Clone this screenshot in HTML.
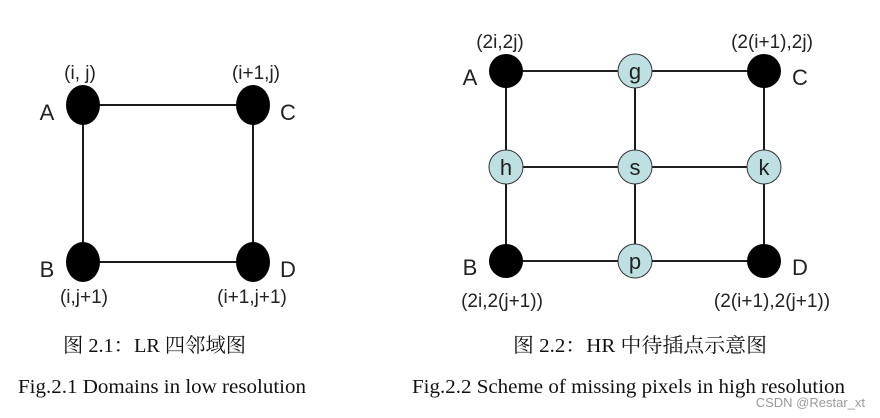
<!DOCTYPE html>
<html><head><meta charset="utf-8"><style>
html,body{margin:0;padding:0;background:#fff;}
body{width:880px;height:418px;overflow:hidden;position:relative;}
svg{position:absolute;left:0;top:0;}
</style></head><body>
<svg width="880" height="418" viewBox="0 0 880 418" xmlns="http://www.w3.org/2000/svg">
<g stroke="#000" stroke-width="1.8" fill="none">
<rect x="83" y="105" width="170" height="157"/>
<line x1="506" y1="71" x2="764" y2="71"/>
<line x1="506" y1="167" x2="764" y2="167"/>
<line x1="506" y1="261" x2="764" y2="261"/>
<line x1="506" y1="71" x2="506" y2="261"/>
<line x1="635" y1="71" x2="635" y2="261"/>
<line x1="764" y1="71" x2="764" y2="261"/>
</g>
<g fill="#000">
<ellipse cx="83" cy="105" rx="17" ry="20"/>
<ellipse cx="253" cy="105" rx="17" ry="20"/>
<ellipse cx="83" cy="262" rx="17" ry="20"/>
<ellipse cx="253" cy="262" rx="17" ry="20"/>
<circle cx="506" cy="71" r="17"/>
<circle cx="764" cy="71" r="17"/>
<circle cx="506" cy="261" r="17"/>
<circle cx="764" cy="261" r="17"/>
</g>
<g fill="#bfe0e2" stroke="#333" stroke-width="1">
<circle cx="635" cy="71" r="17"/>
<circle cx="506" cy="167" r="17"/>
<circle cx="635" cy="167" r="17"/>
<circle cx="764" cy="167" r="17"/>
<circle cx="635" cy="261" r="17"/>
</g>
<g font-family="Liberation Sans, sans-serif" font-size="22" fill="#222" text-anchor="middle">
<text x="635" y="79">g</text>
<text x="506" y="175">h</text>
<text x="635" y="175">s</text>
<text x="764" y="175">k</text>
<text x="635" y="269">p</text>
<text x="47" y="120">A</text>
<text x="288" y="120">C</text>
<text x="47" y="277">B</text>
<text x="288" y="277">D</text>
<text x="470" y="85">A</text>
<text x="800" y="85">C</text>
<text x="470" y="275">B</text>
<text x="800" y="275">D</text>
</g>
<g font-family="Liberation Sans, sans-serif" font-size="19" fill="#222" text-anchor="middle">
<text x="80" y="79">(i, j)</text>
<text x="256" y="79">(i+1,j)</text>
<text x="84" y="303">(i,j+1)</text>
<text x="252" y="303">(i+1,j+1)</text>
<text x="500" y="48">(2i,2j)</text>
<text x="772" y="48">(2(i+1),2j)</text>
<text x="502" y="307">(2i,2(j+1))</text>
<text x="772" y="307">(2(i+1),2(j+1))</text>
</g>
<g font-family="Liberation Serif, Noto Serif CJK SC, serif" font-size="20" fill="#111">
<text x="63" y="352" textLength="183" lengthAdjust="spacingAndGlyphs">图 2.1：LR 四邻域图</text>
<text x="513" y="352" textLength="254" lengthAdjust="spacingAndGlyphs">图 2.2：HR 中待插点示意图</text>
<text x="18" y="393" textLength="288" lengthAdjust="spacingAndGlyphs">Fig.2.1 Domains in low resolution</text>
<text x="412" y="393" textLength="433" lengthAdjust="spacingAndGlyphs">Fig.2.2 Scheme of missing pixels in high resolution</text>
</g>
<text x="865" y="407" text-anchor="end" font-family="Liberation Sans, sans-serif" font-size="13" fill="#999">CSDN @Restar_xt</text>
</svg>
</body></html>
